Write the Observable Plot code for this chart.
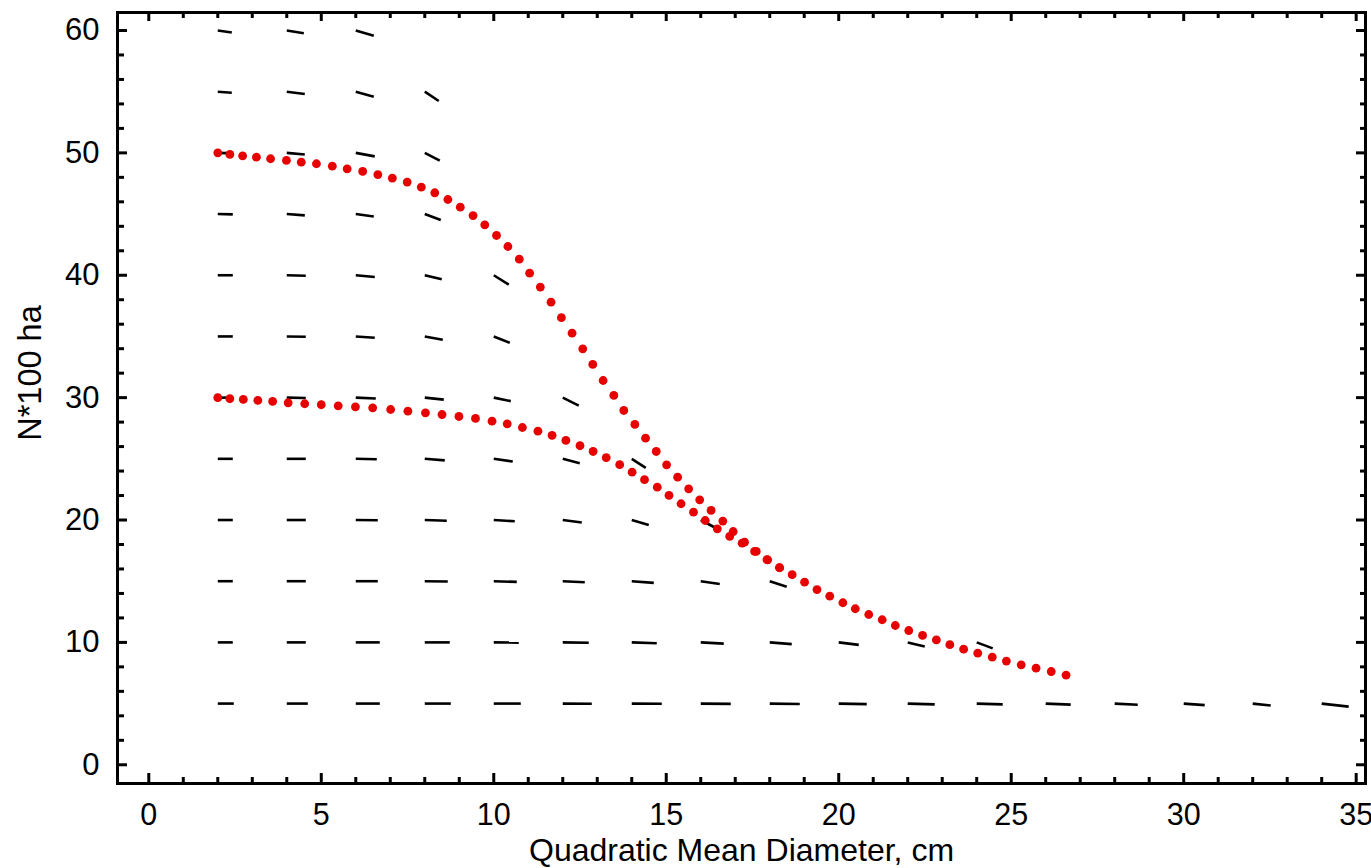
<!DOCTYPE html>
<html><head><meta charset="utf-8">
<script src="https://cdn.jsdelivr.net/npm/d3@7"></script>
<script src="https://cdn.jsdelivr.net/npm/@observablehq/plot@0.6"></script>
<style>body{margin:0;background:#fff;overflow:hidden}</style>
</head><body><div id="chart"></div>
<script>
// Direction field grid: diameter columns and stem-count rows
const gridD = [2,4,6,8,10,12,14,16,18,20,22,24,26,28,30,32,34];
const gridN = [5,10,15,20,25,30,35,40,45,50,55,60];
// Field vector components per row (data units), first entry at D=2
const fieldDx = [
  [0.464,0.609,0.696,0.754,0.783,0.841,0.870,0.870,0.870,0.812,0.783,0.754,0.725,0.667,0.609,0.522,0.783],
  [0.435,0.551,0.696,0.725,0.725,0.754,0.725,0.667,0.638,0.580,0.493,0.464],
  [0.435,0.551,0.638,0.667,0.667,0.638,0.638,0.551,0.493],
  [0.435,0.551,0.638,0.638,0.609,0.551,0.493,0.435],
  [0.435,0.551,0.609,0.580,0.551,0.493,0.406],
  [0.435,0.551,0.580,0.551,0.493,0.464],
  [0.435,0.551,0.551,0.522,0.464],
  [0.435,0.551,0.551,0.493,0.435],
  [0.435,0.522,0.522,0.464],
  [0.435,0.522,0.551,0.435],
  [0.406,0.522,0.522,0.406],
  [0.406,0.493,0.522]
];
const fieldDy = [
  [0,0,0,0,0,-0.016,-0.016,-0.025,-0.033,-0.041,-0.065,-0.065,-0.082,-0.098,-0.123,-0.163,-0.245],
  [0,0,0,0,-0.016,-0.033,-0.065,-0.098,-0.139,-0.204,-0.327,-0.490],
  [0,0,0,-0.025,-0.057,-0.082,-0.139,-0.229,-0.449],
  [0,0,-0.025,-0.065,-0.106,-0.204,-0.409,-0.654],
  [0,0,-0.041,-0.123,-0.221,-0.368,-0.735],
  [0,-0.025,-0.065,-0.163,-0.286,-0.654],
  [0,-0.025,-0.106,-0.270,-0.515],
  [0,-0.041,-0.139,-0.327,-0.760],
  [-0.025,-0.106,-0.204,-0.490],
  [-0.041,-0.139,-0.286,-0.637],
  [-0.082,-0.188,-0.409,-0.760],
  [-0.163,-0.221,-0.433]
];
// Trajectory starting at N=50
const upperD = [2.00,2.35,2.72,3.12,3.53,3.99,4.42,4.86,5.32,5.75,6.20,6.64,7.06,7.49,7.90,8.29,8.67,9.03,9.40,9.74,10.08,10.41,10.74,11.04,11.35,11.66,11.96,12.27,12.58,12.87,13.17,13.48,13.77,14.09,14.40,14.71,15.01,15.33,15.65,15.97,16.30,16.64,16.94,17.27,17.61,17.94,18.29,18.65,19.01,19.37,19.74,20.12,20.48,20.87,21.26,21.64,22.03,22.43,22.83,23.22,23.62,24.03,24.45,24.86,25.29,25.72,26.16,26.59];
const upperN = [50.00,49.87,49.76,49.65,49.52,49.38,49.24,49.11,48.91,48.70,48.48,48.23,47.93,47.61,47.20,46.74,46.19,45.56,44.88,44.12,43.25,42.35,41.31,40.17,39.03,37.80,36.53,35.27,33.99,32.71,31.40,30.18,28.95,27.81,26.69,25.60,24.51,23.50,22.55,21.65,20.78,19.91,19.06,18.19,17.43,16.75,16.10,15.53,14.92,14.32,13.78,13.24,12.75,12.28,11.85,11.38,10.97,10.57,10.20,9.81,9.45,9.12,8.79,8.47,8.17,7.89,7.62,7.32];
// Trajectory starting at N=30
const lowerD = [2.00,2.35,2.74,3.16,3.59,4.04,4.52,5.00,5.49,5.99,6.49,7.01,7.51,8.02,8.50,8.99,9.47,9.95,10.39,10.83,11.28,11.69,12.09,12.50,12.88,13.26,13.65,14.01,14.37,14.74,15.08,15.43,15.79,16.13,16.48,16.84,17.20,17.56,17.92,18.28];
const lowerN = [30.00,29.91,29.85,29.77,29.69,29.58,29.50,29.42,29.33,29.25,29.17,29.03,28.89,28.76,28.62,28.46,28.30,28.08,27.86,27.56,27.26,26.91,26.50,26.07,25.60,25.09,24.52,23.91,23.30,22.68,22.01,21.33,20.64,19.96,19.28,18.66,18.11,17.43,16.76,16.11];
const xMajor = [0,5,10,15,20,25,30,35];
const xMinor = d3.range(0,36).filter(v => v % 5 !== 0);
const yMajor = [0,10,20,30,40,50,60];
const yMinor = d3.range(0,61,2).filter(v => v % 10 !== 0);
const xTitle = "Quadratic Mean Diameter, cm";
const yTitle = "N*100 ha";

const field = [];
gridN.forEach((n, i) => fieldDx[i].forEach((dx, j) => field.push({d: gridD[j], n, dx, dy: fieldDy[i][j]})));
const upper = upperD.map((d, i) => ({d, n: upperN[i]}));
const lower = lowerD.map((d, i) => ({d, n: lowerN[i]}));

const font = "'Liberation Sans', Arial, Helvetica, sans-serif";
const tickOpts = {stroke: "black", strokeWidth: 3, tickFormat: () => "", label: null};

const plot = Plot.plot({
  width: 1371, height: 868,
  marginLeft: 117, marginRight: 6, marginTop: 12, marginBottom: 85,
  x: {domain: [-0.907, 35.27], label: null},
  y: {domain: [-1.53, 61.47], label: null},
  style: {fontFamily: font, fontSize: "31px", background: "white", color: "black"},
  marks: [
    Plot.link(field, {x1: "d", y1: "n", x2: r => r.d + r.dx, y2: r => r.n + r.dy, stroke: "black", strokeWidth: 2.6}),
    Plot.dot(lower, {x: "d", y: "n", r: 4.4, fill: "#e60000"}),
    Plot.dot(upper, {x: "d", y: "n", r: 4.4, fill: "#e60000"}),
    Plot.frame({stroke: "black", strokeWidth: 3}),
    Plot.axisX(xMajor, {anchor: "bottom", tickSize: 10, dy: -10, ...tickOpts}),
    Plot.axisX(xMinor, {anchor: "bottom", tickSize: 6, dy: -6, ...tickOpts}),
    Plot.axisX(xMajor, {anchor: "top", tickSize: 8, dy: 8, ...tickOpts}),
    Plot.axisX(xMinor, {anchor: "top", tickSize: 5, dy: 5, ...tickOpts}),
    Plot.axisY(yMajor, {anchor: "left", tickSize: 10, dx: 10, ...tickOpts}),
    Plot.axisY(yMinor, {anchor: "left", tickSize: 7, dx: 7, ...tickOpts}),
    Plot.axisY(yMajor, {anchor: "right", tickSize: 10, dx: -10, ...tickOpts}),
    Plot.axisY(yMinor, {anchor: "right", tickSize: 6, dx: -6, ...tickOpts}),
    Plot.axisX(xMajor, {anchor: "bottom", tickSize: 0, tickPadding: 20, fontSize: 30.5, label: null, fill: "black"}),
    Plot.axisY(yMajor, {anchor: "left", tickSize: 0, tickPadding: 18, fontSize: 31, label: null, fill: "black"}),
    Plot.text([xTitle], {frameAnchor: "bottom", dy: 67.5, lineAnchor: "middle", fontSize: 32, fill: "black"}),
    Plot.text([yTitle], {frameAnchor: "left", dx: -87, dy: -25, rotate: -90, lineAnchor: "middle", textAnchor: "middle", fontSize: 32.5, fill: "black"})
  ]
});
document.getElementById("chart").appendChild(plot);
</script>
</body></html>
